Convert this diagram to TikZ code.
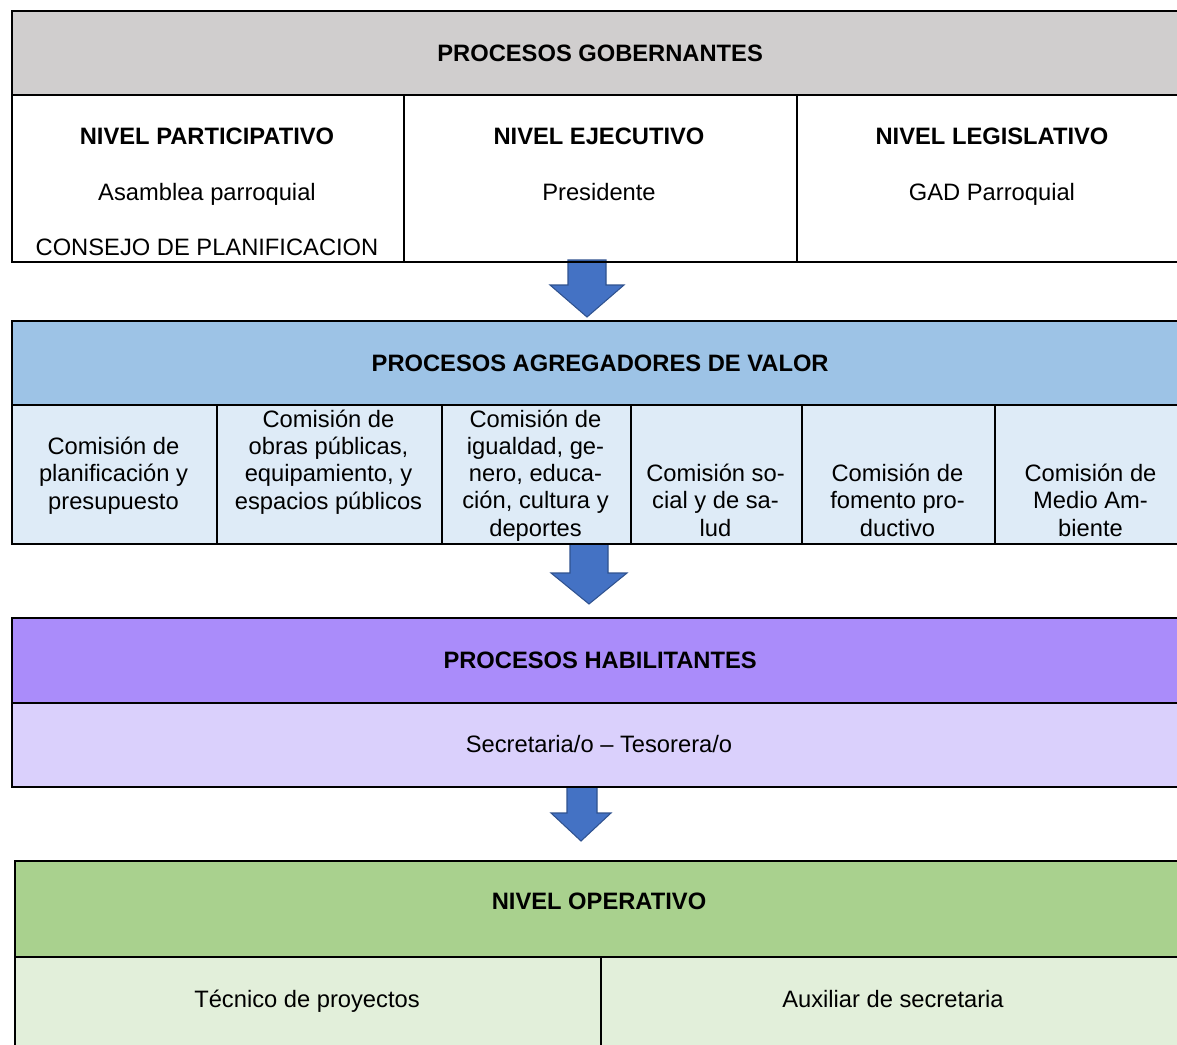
\documentclass[tikz,border=0pt]{standalone}
\usepackage{fontspec}
\setmainfont{Liberation Sans}
\usetikzlibrary{positioning}
\definecolor{GobGray}{RGB}{208,206,206}
\definecolor{AgrBlue}{RGB}{157,195,230}
\definecolor{AgrLight}{RGB}{222,235,247}
\definecolor{HabPurple}{RGB}{170,140,250}
\definecolor{HabLight}{RGB}{218,208,252}
\definecolor{OpeGreen}{RGB}{169,209,142}
\definecolor{OpeLight}{RGB}{226,239,218}
\definecolor{ArrowBlue}{RGB}{68,114,196}
\definecolor{ArrowEdge}{RGB}{47,82,143}
\newcommand{\pxu}{0.02cm}

\begin{document}
\fontsize{13.5}{15.5}\selectfont
\begin{tikzpicture}[x=\pxu,y=-\pxu,
    cellbox/.style={draw=black,line width=1.3pt,inner sep=0pt,anchor=north west},
    celltxt/.style={align=center,inner sep=0pt,anchor=base},
    blockarrow/.style={fill=ArrowBlue,draw=ArrowEdge,line width=0.6pt,line join=miter}]
    \useasboundingbox (0,0) rectangle (1177,1045);
    % arrows between the blocks
    \coordinate (arr1) at (587,260);
    \coordinate (arr2) at (589,543);
    \coordinate (arr3) at (582,786);
    \draw[blockarrow] (arr1) ++(-19,0) -- ++(38,0) -- ++(0,25) -- ++(18,0) -- ++(-37,32) -- ++(-37,-32) -- ++(18,0) -- cycle;
    \draw[blockarrow] (arr2) ++(-19,0) -- ++(38,0) -- ++(0,30) -- ++(19,0) -- ++(-38,31) -- ++(-38,-31) -- ++(19,0) -- cycle;
    \draw[blockarrow] (arr3) ++(-15,0) -- ++(30,0) -- ++(0,27) -- ++(14,0) -- ++(-30,28) -- ++(-30,-28) -- ++(16,0) -- cycle;
    % procesos gobernantes
    \node[cellbox,fill=GobGray,minimum width=1176*\pxu,minimum height=84*\pxu] (gobHead) at (11,10) {\textbf{PROCESOS GOBERNANTES}};
    \node[cellbox,minimum width=392*\pxu,minimum height=167*\pxu] (nivPar) at (11,94) {};
    \node[cellbox,minimum width=393*\pxu,minimum height=167*\pxu] (nivEje) at (403,94) {};
    \node[cellbox,minimum width=391*\pxu,minimum height=167*\pxu] (nivLeg) at (796,94) {};
    \node[celltxt] (nivParT) at (207,144) {\textbf{NIVEL PARTICIPATIVO}};
    \node[celltxt] (nivParA) at (207,200) {Asamblea parroquial};
    \node[celltxt] (nivParC) at (207,255) {CONSEJO DE PLANIFICACION};
    \node[celltxt] (nivEjeT) at (599,144) {\textbf{NIVEL EJECUTIVO}};
    \node[celltxt] (nivEjeP) at (599,200) {Presidente};
    \node[celltxt] (nivLegT) at (992,144) {\textbf{NIVEL LEGISLATIVO}};
    \node[celltxt] (nivLegG) at (992,200) {GAD Parroquial};
    % procesos agregadores de valor
    \node[cellbox,fill=AgrBlue,minimum width=1176*\pxu,minimum height=84*\pxu] (agrHead) at (11,320) {\textbf{PROCESOS AGREGADORES DE VALOR}};
    \node[cellbox,fill=AgrLight,minimum width=205*\pxu,minimum height=139*\pxu] (comPla) at (11,404) {};
    \node[cellbox,fill=AgrLight,minimum width=225*\pxu,minimum height=139*\pxu] (comObr) at (216,404) {};
    \node[cellbox,fill=AgrLight,minimum width=189*\pxu,minimum height=139*\pxu] (comIgu) at (441,404) {};
    \node[cellbox,fill=AgrLight,minimum width=171*\pxu,minimum height=139*\pxu] (comSoc) at (630,404) {};
    \node[cellbox,fill=AgrLight,minimum width=193*\pxu,minimum height=139*\pxu] (comFom) at (801,404) {};
    \node[cellbox,fill=AgrLight,minimum width=193*\pxu,minimum height=139*\pxu] (comAmb) at (994,404) {};
    \node[celltxt] (comPlaT) at (113.5,509) {Comisión de\\planificación y\\presupuesto};
    \node[celltxt] (comObrT) at (328.5,509) {Comisión de\\obras públicas,\\equipamiento, y\\espacios públicos};
    \node[celltxt] (comIguT) at (535.5,536) {Comisión de\\igualdad, ge-\\nero, educa-\\ción, cultura y\\deportes};
    \node[celltxt] (comSocT) at (715.5,536) {Comisión so-\\cial y de sa-\\lud};
    \node[celltxt] (comFomT) at (897.5,536) {Comisión de\\fomento pro-\\ductivo};
    \node[celltxt] (comAmbT) at (1090.5,536) {Comisión de\\Medio Am-\\biente};
    % procesos habilitantes
    \node[cellbox,fill=HabPurple,minimum width=1176*\pxu,minimum height=85*\pxu] (habHead) at (11,617) {\textbf{PROCESOS HABILITANTES}};
    \node[cellbox,fill=HabLight,minimum width=1176*\pxu,minimum height=84*\pxu] (habSec) at (11,702) {};
    \node[celltxt] (habSecT) at (599,752) {Secretaria/o -- Tesorera/o};
    % nivel operativo
    \node[cellbox,fill=OpeGreen,minimum width=1173*\pxu,minimum height=96*\pxu] (opeHead) at (14,860) {};
    \node[celltxt] (opeHeadT) at (599,909) {\textbf{NIVEL OPERATIVO}};
    \node[cellbox,fill=OpeLight,minimum width=586*\pxu,minimum height=110*\pxu] (opeTec) at (14,956) {};
    \node[cellbox,fill=OpeLight,minimum width=587*\pxu,minimum height=110*\pxu] (opeAux) at (600,956) {};
    \node[celltxt] (opeTecT) at (307,1007) {Técnico de proyectos};
    \node[celltxt] (opeAuxT) at (893,1007) {Auxiliar de secretaria};
\end{tikzpicture}
\end{document}
